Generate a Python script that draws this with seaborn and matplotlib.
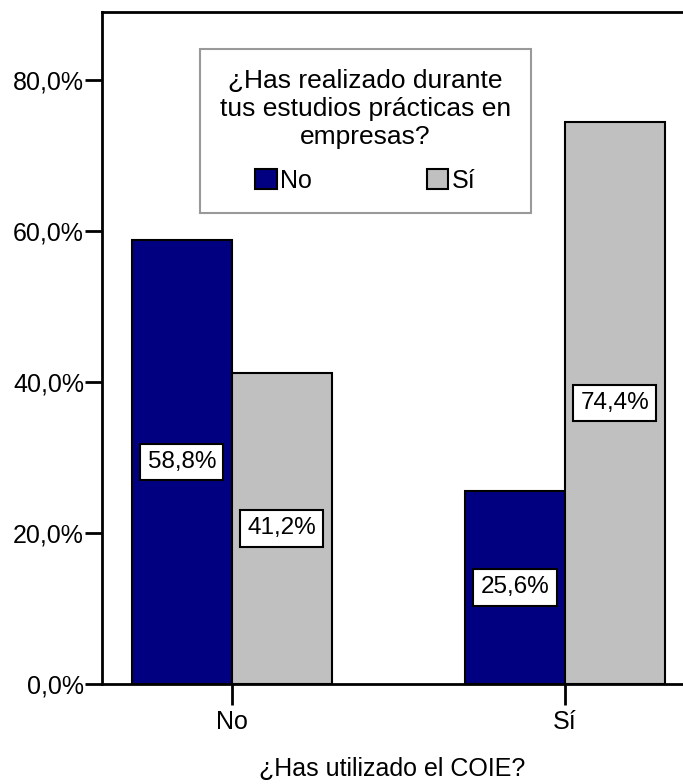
import matplotlib
matplotlib.use("Agg")
import matplotlib.pyplot as plt
import matplotlib.patches as mpatches
import seaborn as sns
import pandas as pd

# data
coie = ["No", "Sí", "No", "Sí"]
practicas = ["No", "No", "Sí", "Sí"]
porcentaje = [58.8, 25.6, 41.2, 74.4]

categorias = ["No", "Sí"]
colores = {"No": "#000080", "Sí": "#C0C0C0"}
yticks = [0, 20, 40, 60, 80]

df = pd.DataFrame({"COIE": coie, "Practicas": practicas, "Pct": porcentaje})

sns.set_style("white", {"text.color": "black", "axes.labelcolor": "black",
                        "xtick.color": "black", "ytick.color": "black",
                        "axes.edgecolor": "black"})
plt.rcParams["font.family"] = ["Liberation Sans", "DejaVu Sans"]

fig = plt.figure(figsize=(6.83, 7.84), dpi=100)
ax = fig.add_axes([102 / 683, 100 / 784, 1 - 102 / 683, 672.5 / 784])

sns.barplot(data=df, x="COIE", y="Pct", hue="Practicas", order=categorias,
            hue_order=categorias, palette=colores, width=0.6, edgecolor="black",
            linewidth=1.5, saturation=1, legend=False, ax=ax)

# labels in the middle of each bar
for cont in ax.containers:
    for bar in cont:
        h = bar.get_height()
        ax.text(bar.get_x() + bar.get_width() / 2, h / 2,
                ("%.1f%%" % h).replace(".", ","), ha="center", va="center",
                fontsize=17.5, color="black",
                bbox=dict(boxstyle="square,pad=0.3", fc="white", ec="black", lw=1.5))

ax.set_xlim(-0.39, 1.355)
ax.set_ylim(0, 89)
ax.set_yticks(yticks)
ax.set_yticklabels([("%.1f%%" % v).replace(".", ",") for v in yticks])
ax.tick_params(axis="y", length=12, width=2, labelsize=18, pad=1, left=True)
ax.tick_params(axis="x", length=15, width=2, labelsize=18, pad=4, bottom=True)
ax.set_xlabel("¿Has utilizado el COIE?", fontsize=18, labelpad=16)
ax.set_ylabel("")
for s in ["left", "bottom", "top"]:
    ax.spines[s].set_linewidth(2)
ax.spines["right"].set_visible(False)

handles = [mpatches.Patch(facecolor=colores[c], edgecolor="black", lw=1.5, label=c)
           for c in categorias]
leg = ax.legend(handles=handles, ncol=2,
                title="¿Has realizado durante\ntus estudios prácticas en\nempresas?",
                loc="upper left", bbox_to_anchor=(200 / 683, 1 - 49 / 784),
                bbox_transform=fig.transFigure, borderaxespad=0,
                fontsize=18, title_fontsize=19,
                frameon=True, fancybox=False, edgecolor="#808080",
                handlelength=0.85, handleheight=0.85, handletextpad=0.15,
                columnspacing=4.6, borderpad=0.8, labelspacing=0.55)
leg.get_frame().set_linewidth(1.5)
leg.get_title().set_multialignment("center")
leg.get_title().set_linespacing(1.22)
leg._legend_box.sep = 14

fig.savefig("out.png", dpi=100)
